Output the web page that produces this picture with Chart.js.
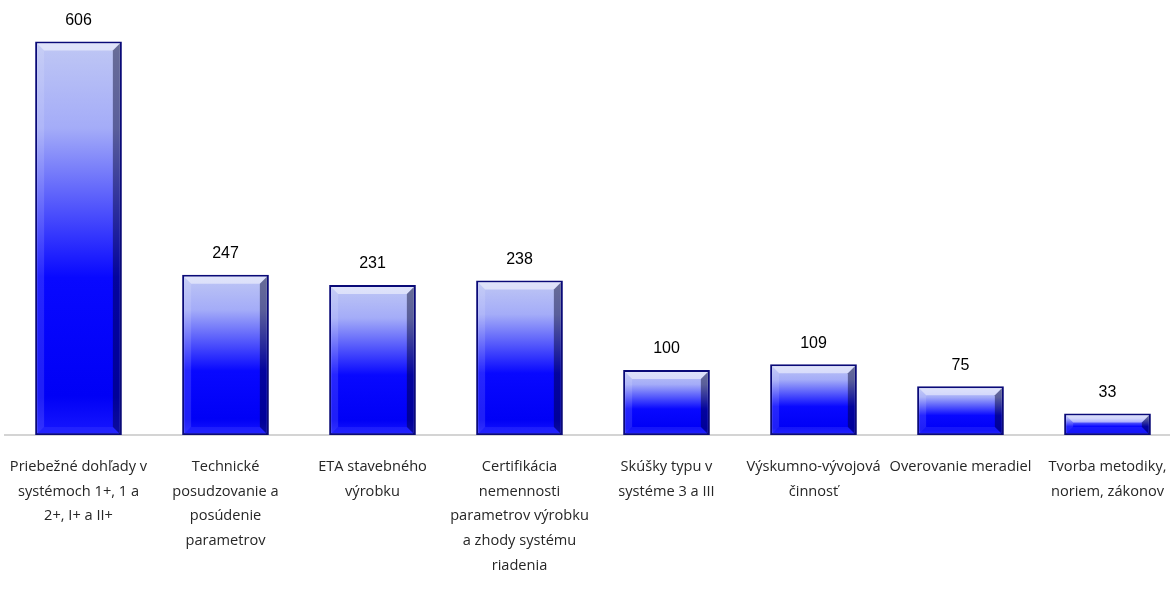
<!DOCTYPE html>
<html>
<head>
<meta charset="utf-8">
<script src="https://cdn.jsdelivr.net/npm/chart.js@4"></script>
<style>
  html, body { margin: 0; padding: 0; background: #fff; overflow: hidden; }
  #obal { width: 1182px; height: 596px; }
</style>
</head>
<body>
<div id="obal"><canvas id="graf" width="1182" height="596"></canvas></div>
<script>
// Kategórie (popisy pod stĺpcami, po riadkoch)
const kategorie = [
    ['Priebežné dohľady v', 'systémoch 1+, 1 a', '2+, I+ a II+'],
    ['Technické', 'posudzovanie a', 'posúdenie', 'parametrov'],
    ['ETA stavebného', 'výrobku'],
    ['Certifikácia', 'nemennosti', 'parametrov výrobku', 'a zhody systému', 'riadenia'],
    ['Skúšky typu v', 'systéme 3 a III'],
    ['Výskumno-vývojová', 'činnosť'],
    ['Overovanie meradiel'],
    ['Tvorba metodiky,', 'noriem, zákonov']
];

// Počty
const pocty = [606, 247, 231, 238, 100, 109, 75, 33];

// Farebný prechod stĺpca podľa jeho výšky
function vyplnStlpca(context) {
    const chart = context.chart;
    if (!chart.chartArea || !chart.scales.y) return '#0000ff';
    const y = chart.scales.y;
    const hore = y.getPixelForValue(context.raw);
    const dole = y.getPixelForValue(0);
    const g = chart.ctx.createLinearGradient(0, hore, 0, dole);
    g.addColorStop(0, '#c0c8f4');
    g.addColorStop(0.22, '#a4acf8');
    g.addColorStop(0.6, '#0808ff');
    g.addColorStop(0.9, '#0000f6');
    g.addColorStop(1, '#1818ff');
    return g;
}

// Plastický okraj stĺpcov
const zkosenie = {
    id: 'zkosenie',
    afterDatasetsDraw(chart) {
        const ctx = chart.ctx;
        chart.getDatasetMeta(0).data.forEach(bar => {
            const l = bar.x - bar.width / 2 + 2, r = bar.x + bar.width / 2 - 2;
            const t = bar.y + 2, b = bar.base - 1;
            const s = Math.min(7, (b - t) / 2);
            ctx.save();
            // horný pás
            ctx.fillStyle = 'rgba(255,255,255,0.5)';
            ctx.beginPath();
            ctx.moveTo(l, t); ctx.lineTo(r, t); ctx.lineTo(r - s, t + s); ctx.lineTo(l + s, t + s);
            ctx.closePath(); ctx.fill();
            // pravý pás
            ctx.fillStyle = 'rgba(0,0,40,0.45)';
            ctx.beginPath();
            ctx.moveTo(r, t); ctx.lineTo(r, b); ctx.lineTo(r - s, b - s); ctx.lineTo(r - s, t + s);
            ctx.closePath(); ctx.fill();
            // ľavý pás
            ctx.fillStyle = 'rgba(255,255,255,0.12)';
            ctx.beginPath();
            ctx.moveTo(l, t); ctx.lineTo(l + s, t + s); ctx.lineTo(l + s, b - s); ctx.lineTo(l, b);
            ctx.closePath(); ctx.fill();
            // dolný pás
            ctx.fillStyle = 'rgba(60,60,255,0.35)';
            ctx.beginPath();
            ctx.moveTo(l, b); ctx.lineTo(l + s, b - s); ctx.lineTo(r - s, b - s); ctx.lineTo(r, b);
            ctx.closePath(); ctx.fill();
            ctx.restore();
        });
    }
};

// Hodnoty nad stĺpcami
const hodnoty = {
    id: 'hodnoty',
    afterDatasetsDraw(chart) {
        const ctx = chart.ctx;
        ctx.save();
        ctx.font = '16px "Liberation Sans", Arial, sans-serif';
        ctx.fillStyle = '#000';
        ctx.textAlign = 'center';
        ctx.textBaseline = 'middle';
        chart.getDatasetMeta(0).data.forEach((bar, i) => {
            ctx.fillText(String(pocty[i]), bar.x, bar.y - 21);
        });
        ctx.restore();
    }
};

new Chart(document.getElementById('graf'), {
    type: 'bar',
    data: {
        labels: kategorie,
        datasets: [{
            data: pocty,
            backgroundColor: vyplnStlpca,
            borderColor: '#0a0a78',
            borderWidth: 2,
            borderSkipped: false,
            barPercentage: 0.59,
            categoryPercentage: 1
        }]
    },
    options: {
        responsive: false,
        animation: false,
        layout: { padding: { left: 5, right: 1, top: 0, bottom: 0 } },
        plugins: {
            legend: { display: false },
            tooltip: { enabled: false }
        },
        scales: {
            x: {
                grid: { display: false, drawTicks: false },
                border: { display: true, color: '#d4d4d4', width: 2 },
                afterFit(scale) {
                    scale.height = 161;
                    scale.paddingLeft = 0;
                    scale.paddingRight = 0;
                },
                ticks: {
                    autoSkip: false,
                    maxRotation: 0,
                    padding: 20,
                    color: '#262626',
                    font: { family: '"Open Sans", sans-serif', size: 14.6, lineHeight: 1.68 }
                }
            },
            y: {
                display: false,
                min: 0,
                max: 670
            }
        }
    },
    plugins: [zkosenie, hodnoty]
});
</script>
</body>
</html>
